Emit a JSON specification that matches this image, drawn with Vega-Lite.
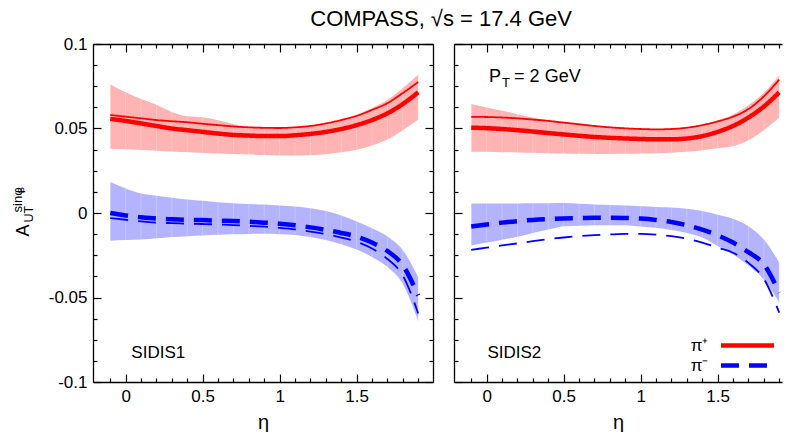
{
  "$schema": "https://vega.github.io/schema/vega-lite/v6.json",
  "padding": {"left": 12, "top": 8, "right": 0, "bottom": 0},
  "background": "white",
  "title": {"text": "COMPASS, √s = 17.4 GeV", "font": "Liberation Sans", "fontSize": 22, "fontWeight": "normal", "color": "black", "anchor": "middle", "offset": 6, "dx": 41, "dy": 2},
  "config": {
    "font": "Liberation Sans",
    "view": {"stroke": null},
    "axis": {"grid": false, "domainColor": "black", "tickColor": "black", "labelColor": "black", "titleColor": "black", "domainWidth": 1.3, "tickWidth": 1.2, "labelFont": "Liberation Sans", "labelFontSize": 17, "titleFont": "Liberation Sans", "titleFontSize": 20, "titleFontWeight": "normal"},
    "legend": {"labelFont": "Liberation Sans", "labelFontSize": 17, "labelColor": "black"}
  },
  "datasets": {
    "curves": [
      {"panel": "SIDIS1", "pion": "π⁺", "eta": -0.1, "c": 0.0557, "a": 0.058, "lo": 0.038, "hi": 0.076},
      {"panel": "SIDIS1", "pion": "π⁺", "eta": 0.0, "c": 0.0545, "a": 0.057, "lo": 0.0377, "hi": 0.0714},
      {"panel": "SIDIS1", "pion": "π⁺", "eta": 0.1, "c": 0.053, "a": 0.056, "lo": 0.0373, "hi": 0.0675},
      {"panel": "SIDIS1", "pion": "π⁺", "eta": 0.2, "c": 0.0515, "a": 0.055, "lo": 0.0369, "hi": 0.0641},
      {"panel": "SIDIS1", "pion": "π⁺", "eta": 0.3, "c": 0.05, "a": 0.0543, "lo": 0.0364, "hi": 0.0598},
      {"panel": "SIDIS1", "pion": "π⁺", "eta": 0.4, "c": 0.049, "a": 0.0537, "lo": 0.0359, "hi": 0.0572},
      {"panel": "SIDIS1", "pion": "π⁺", "eta": 0.5, "c": 0.048, "a": 0.0528, "lo": 0.0355, "hi": 0.0566},
      {"panel": "SIDIS1", "pion": "π⁺", "eta": 0.6, "c": 0.047, "a": 0.052, "lo": 0.0352, "hi": 0.0549},
      {"panel": "SIDIS1", "pion": "π⁺", "eta": 0.7, "c": 0.0462, "a": 0.0512, "lo": 0.0349, "hi": 0.0527},
      {"panel": "SIDIS1", "pion": "π⁺", "eta": 0.8, "c": 0.0458, "a": 0.0507, "lo": 0.0346, "hi": 0.0508},
      {"panel": "SIDIS1", "pion": "π⁺", "eta": 0.9, "c": 0.0455, "a": 0.0504, "lo": 0.0343, "hi": 0.0505},
      {"panel": "SIDIS1", "pion": "π⁺", "eta": 1.0, "c": 0.0455, "a": 0.0503, "lo": 0.034, "hi": 0.0504},
      {"panel": "SIDIS1", "pion": "π⁺", "eta": 1.1, "c": 0.046, "a": 0.0507, "lo": 0.034, "hi": 0.0508},
      {"panel": "SIDIS1", "pion": "π⁺", "eta": 1.2, "c": 0.0468, "a": 0.0515, "lo": 0.0342, "hi": 0.0517},
      {"panel": "SIDIS1", "pion": "π⁺", "eta": 1.3, "c": 0.048, "a": 0.053, "lo": 0.0348, "hi": 0.0533},
      {"panel": "SIDIS1", "pion": "π⁺", "eta": 1.4, "c": 0.0497, "a": 0.055, "lo": 0.036, "hi": 0.0555},
      {"panel": "SIDIS1", "pion": "π⁺", "eta": 1.5, "c": 0.052, "a": 0.0575, "lo": 0.0375, "hi": 0.0582},
      {"panel": "SIDIS1", "pion": "π⁺", "eta": 1.6, "c": 0.055, "a": 0.061, "lo": 0.04, "hi": 0.062},
      {"panel": "SIDIS1", "pion": "π⁺", "eta": 1.7, "c": 0.059, "a": 0.065, "lo": 0.0435, "hi": 0.067},
      {"panel": "SIDIS1", "pion": "π⁺", "eta": 1.8, "c": 0.0645, "a": 0.071, "lo": 0.049, "hi": 0.074},
      {"panel": "SIDIS1", "pion": "π⁺", "eta": 1.9, "c": 0.0714, "a": 0.0775, "lo": 0.0553, "hi": 0.0818},
      {"panel": "SIDIS1", "pion": "π⁻", "eta": -0.1, "c": 0.0, "a": -0.003, "lo": -0.0164, "hi": 0.0183},
      {"panel": "SIDIS1", "pion": "π⁻", "eta": 0.0, "c": -0.0015, "a": -0.004, "lo": -0.016, "hi": 0.0145},
      {"panel": "SIDIS1", "pion": "π⁻", "eta": 0.1, "c": -0.0025, "a": -0.005, "lo": -0.0157, "hi": 0.0115},
      {"panel": "SIDIS1", "pion": "π⁻", "eta": 0.2, "c": -0.0033, "a": -0.0057, "lo": -0.015, "hi": 0.0102},
      {"panel": "SIDIS1", "pion": "π⁻", "eta": 0.3, "c": -0.0037, "a": -0.006, "lo": -0.0142, "hi": 0.009},
      {"panel": "SIDIS1", "pion": "π⁻", "eta": 0.4, "c": -0.004, "a": -0.0063, "lo": -0.0137, "hi": 0.008},
      {"panel": "SIDIS1", "pion": "π⁻", "eta": 0.5, "c": -0.0042, "a": -0.0065, "lo": -0.0133, "hi": 0.0072},
      {"panel": "SIDIS1", "pion": "π⁻", "eta": 0.6, "c": -0.0045, "a": -0.0068, "lo": -0.0129, "hi": 0.0064},
      {"panel": "SIDIS1", "pion": "π⁻", "eta": 0.7, "c": -0.0048, "a": -0.0072, "lo": -0.0126, "hi": 0.0058},
      {"panel": "SIDIS1", "pion": "π⁻", "eta": 0.8, "c": -0.0052, "a": -0.0076, "lo": -0.0124, "hi": 0.0053},
      {"panel": "SIDIS1", "pion": "π⁻", "eta": 0.9, "c": -0.0057, "a": -0.0081, "lo": -0.0123, "hi": 0.005},
      {"panel": "SIDIS1", "pion": "π⁻", "eta": 1.0, "c": -0.0063, "a": -0.0088, "lo": -0.0125, "hi": 0.0045},
      {"panel": "SIDIS1", "pion": "π⁻", "eta": 1.1, "c": -0.0072, "a": -0.0097, "lo": -0.013, "hi": 0.0038},
      {"panel": "SIDIS1", "pion": "π⁻", "eta": 1.2, "c": -0.0085, "a": -0.011, "lo": -0.0142, "hi": 0.0028},
      {"panel": "SIDIS1", "pion": "π⁻", "eta": 1.3, "c": -0.01, "a": -0.0125, "lo": -0.016, "hi": 0.0012},
      {"panel": "SIDIS1", "pion": "π⁻", "eta": 1.4, "c": -0.0118, "a": -0.0145, "lo": -0.0185, "hi": -0.0015},
      {"panel": "SIDIS1", "pion": "π⁻", "eta": 1.5, "c": -0.014, "a": -0.017, "lo": -0.0216, "hi": -0.005},
      {"panel": "SIDIS1", "pion": "π⁻", "eta": 1.6, "c": -0.0175, "a": -0.021, "lo": -0.026, "hi": -0.009},
      {"panel": "SIDIS1", "pion": "π⁻", "eta": 1.7, "c": -0.0225, "a": -0.0272, "lo": -0.032, "hi": -0.0139},
      {"panel": "SIDIS1", "pion": "π⁻", "eta": 1.8, "c": -0.031, "a": -0.037, "lo": -0.042, "hi": -0.022},
      {"panel": "SIDIS1", "pion": "π⁻", "eta": 1.9, "c": -0.0488, "a": -0.0595, "lo": -0.064, "hi": -0.038},
      {"panel": "SIDIS2", "pion": "π⁺", "eta": -0.1, "c": 0.0505, "a": 0.0569, "lo": 0.0363, "hi": 0.0645},
      {"panel": "SIDIS2", "pion": "π⁺", "eta": 0.0, "c": 0.0502, "a": 0.0568, "lo": 0.0362, "hi": 0.0625},
      {"panel": "SIDIS2", "pion": "π⁺", "eta": 0.1, "c": 0.0497, "a": 0.0565, "lo": 0.036, "hi": 0.0605},
      {"panel": "SIDIS2", "pion": "π⁺", "eta": 0.2, "c": 0.049, "a": 0.056, "lo": 0.0358, "hi": 0.0585},
      {"panel": "SIDIS2", "pion": "π⁺", "eta": 0.3, "c": 0.0482, "a": 0.0553, "lo": 0.0356, "hi": 0.0565},
      {"panel": "SIDIS2", "pion": "π⁺", "eta": 0.4, "c": 0.0473, "a": 0.0545, "lo": 0.0354, "hi": 0.0548},
      {"panel": "SIDIS2", "pion": "π⁺", "eta": 0.5, "c": 0.0465, "a": 0.0535, "lo": 0.0352, "hi": 0.0537},
      {"panel": "SIDIS2", "pion": "π⁺", "eta": 0.6, "c": 0.0457, "a": 0.0525, "lo": 0.035, "hi": 0.0527},
      {"panel": "SIDIS2", "pion": "π⁺", "eta": 0.7, "c": 0.045, "a": 0.0515, "lo": 0.0349, "hi": 0.0517},
      {"panel": "SIDIS2", "pion": "π⁺", "eta": 0.8, "c": 0.0445, "a": 0.0507, "lo": 0.0349, "hi": 0.0509},
      {"panel": "SIDIS2", "pion": "π⁺", "eta": 0.9, "c": 0.0441, "a": 0.0501, "lo": 0.035, "hi": 0.0503},
      {"panel": "SIDIS2", "pion": "π⁺", "eta": 1.0, "c": 0.0438, "a": 0.0497, "lo": 0.0352, "hi": 0.0499},
      {"panel": "SIDIS2", "pion": "π⁺", "eta": 1.1, "c": 0.0436, "a": 0.0495, "lo": 0.0354, "hi": 0.0497},
      {"panel": "SIDIS2", "pion": "π⁺", "eta": 1.2, "c": 0.0436, "a": 0.0497, "lo": 0.0357, "hi": 0.0499},
      {"panel": "SIDIS2", "pion": "π⁺", "eta": 1.3, "c": 0.0441, "a": 0.0505, "lo": 0.0362, "hi": 0.0507},
      {"panel": "SIDIS2", "pion": "π⁺", "eta": 1.4, "c": 0.0455, "a": 0.052, "lo": 0.0372, "hi": 0.0524},
      {"panel": "SIDIS2", "pion": "π⁺", "eta": 1.5, "c": 0.048, "a": 0.0542, "lo": 0.0383, "hi": 0.0549},
      {"panel": "SIDIS2", "pion": "π⁺", "eta": 1.6, "c": 0.0515, "a": 0.057, "lo": 0.0395, "hi": 0.0582},
      {"panel": "SIDIS2", "pion": "π⁺", "eta": 1.7, "c": 0.0565, "a": 0.0615, "lo": 0.043, "hi": 0.0637},
      {"panel": "SIDIS2", "pion": "π⁺", "eta": 1.8, "c": 0.063, "a": 0.069, "lo": 0.049, "hi": 0.0712},
      {"panel": "SIDIS2", "pion": "π⁺", "eta": 1.9, "c": 0.0714, "a": 0.0789, "lo": 0.0563, "hi": 0.0813},
      {"panel": "SIDIS2", "pion": "π⁻", "eta": -0.1, "c": -0.008, "a": -0.0218, "lo": -0.0192, "hi": 0.0056},
      {"panel": "SIDIS2", "pion": "π⁻", "eta": 0.0, "c": -0.0068, "a": -0.0205, "lo": -0.0175, "hi": 0.0056},
      {"panel": "SIDIS2", "pion": "π⁻", "eta": 0.1, "c": -0.0057, "a": -0.0192, "lo": -0.0158, "hi": 0.0056},
      {"panel": "SIDIS2", "pion": "π⁻", "eta": 0.2, "c": -0.0048, "a": -0.018, "lo": -0.0141, "hi": 0.0056},
      {"panel": "SIDIS2", "pion": "π⁻", "eta": 0.3, "c": -0.0041, "a": -0.0167, "lo": -0.0118, "hi": 0.0057},
      {"panel": "SIDIS2", "pion": "π⁻", "eta": 0.4, "c": -0.0036, "a": -0.0155, "lo": -0.0098, "hi": 0.0058},
      {"panel": "SIDIS2", "pion": "π⁻", "eta": 0.5, "c": -0.0032, "a": -0.0145, "lo": -0.0078, "hi": 0.0059},
      {"panel": "SIDIS2", "pion": "π⁻", "eta": 0.6, "c": -0.003, "a": -0.0137, "lo": -0.0075, "hi": 0.0055},
      {"panel": "SIDIS2", "pion": "π⁻", "eta": 0.7, "c": -0.0028, "a": -0.0131, "lo": -0.0073, "hi": 0.0051},
      {"panel": "SIDIS2", "pion": "π⁻", "eta": 0.8, "c": -0.0028, "a": -0.0127, "lo": -0.0072, "hi": 0.0048},
      {"panel": "SIDIS2", "pion": "π⁻", "eta": 0.9, "c": -0.0029, "a": -0.0124, "lo": -0.0072, "hi": 0.0044},
      {"panel": "SIDIS2", "pion": "π⁻", "eta": 1.0, "c": -0.0033, "a": -0.0124, "lo": -0.008, "hi": 0.004},
      {"panel": "SIDIS2", "pion": "π⁻", "eta": 1.1, "c": -0.0041, "a": -0.0128, "lo": -0.0088, "hi": 0.0036},
      {"panel": "SIDIS2", "pion": "π⁻", "eta": 1.2, "c": -0.0053, "a": -0.0137, "lo": -0.01, "hi": 0.0032},
      {"panel": "SIDIS2", "pion": "π⁻", "eta": 1.3, "c": -0.0072, "a": -0.0152, "lo": -0.0118, "hi": 0.0025},
      {"panel": "SIDIS2", "pion": "π⁻", "eta": 1.4, "c": -0.0098, "a": -0.0175, "lo": -0.0145, "hi": 0.0012},
      {"panel": "SIDIS2", "pion": "π⁻", "eta": 1.5, "c": -0.0132, "a": -0.0205, "lo": -0.0195, "hi": -0.001},
      {"panel": "SIDIS2", "pion": "π⁻", "eta": 1.6, "c": -0.0175, "a": -0.0235, "lo": -0.0245, "hi": -0.0034},
      {"panel": "SIDIS2", "pion": "π⁻", "eta": 1.7, "c": -0.0232, "a": -0.0295, "lo": -0.031, "hi": -0.0078},
      {"panel": "SIDIS2", "pion": "π⁻", "eta": 1.8, "c": -0.0304, "a": -0.039, "lo": -0.0393, "hi": -0.0157},
      {"panel": "SIDIS2", "pion": "π⁻", "eta": 1.9, "c": -0.0472, "a": -0.059, "lo": -0.053, "hi": -0.0294}
    ],
    "one": [{}]
  },
  "data": {"name": "curves"},
  "spacing": 21,
  "bounds": "flush",
  "resolve": {"scale": {"color": "independent", "strokeDash": "independent"}},
  "hconcat": [
    {
      "width": 340,
      "height": 338,
      "resolve": {"axis": {"x": "independent", "y": "independent"}},
      "layer": [
        {
          "transform": [{"filter": "datum.panel == 'SIDIS1' && datum.pion == 'π⁺'"}],
          "mark": {"type": "area", "color": "#ffb3b3", "interpolate": "monotone"},
          "encoding": {
            "x": {"field": "eta", "type": "quantitative", "scale": {"domain": [-0.212, 1.996], "nice": false, "zero": false},
                  "axis": {"orient": "bottom", "values": [0, 0.5, 1, 1.5], "tickSize": -8, "labelPadding": 14, "format": "~g", "title": "η", "titlePadding": 8}},
            "y": {"field": "lo", "type": "quantitative", "scale": {"domain": [-0.1, 0.1], "nice": false, "zero": false},
                  "axis": {"orient": "left", "values": [-0.1, -0.05, 0, 0.05, 0.1], "tickSize": -8, "labelPadding": 14, "labelExpr": "replace(format(datum.value, '.2~f'), '−', '-')", "title": null}},
            "y2": {"field": "hi"}
          }
        },
        {
          "transform": [{"filter": "datum.panel == 'SIDIS1' && datum.pion == 'π⁻'"}],
          "mark": {"type": "area", "color": "#b3b3ff", "interpolate": "monotone"},
          "encoding": {
            "x": {"field": "eta", "type": "quantitative", "scale": {"domain": [-0.212, 1.996], "nice": false, "zero": false},
                  "axis": {"orient": "top", "values": [0, 0.5, 1, 1.5], "tickSize": -8, "labels": false, "title": null}},
            "y": {"field": "lo", "type": "quantitative", "scale": {"domain": [-0.1, 0.1], "nice": false, "zero": false},
                  "axis": {"orient": "right", "values": [-0.1, -0.05, 0, 0.05, 0.1], "tickSize": -8, "labels": false, "title": null}},
            "y2": {"field": "hi"}
          }
        },
        {
          "transform": [{"filter": "datum.panel == 'SIDIS1'"}],
          "mark": {"type": "rule", "color": "white", "strokeWidth": 0.8, "opacity": 0.3},
          "encoding": {
            "x": {"field": "eta", "type": "quantitative",
                  "axis": {"orient": "bottom", "values": [-0.1, 0.1, 0.2, 0.3, 0.4, 0.6, 0.7, 0.8, 0.9, 1.1, 1.2, 1.3, 1.4, 1.6, 1.7, 1.8, 1.9], "tickSize": -4, "labels": false, "domain": false, "title": null}},
            "y": {"field": "lo", "type": "quantitative",
                  "axis": {"orient": "left", "values": [-0.0875, -0.075, -0.0625, -0.0375, -0.025, -0.0125, 0.0125, 0.025, 0.0375, 0.0625, 0.075, 0.0875], "tickSize": -4, "labels": false, "domain": false, "title": null}},
            "y2": {"field": "hi"}
          }
        },
        {
          "transform": [{"filter": "datum.panel == 'SIDIS1'"}],
          "mark": {"type": "line", "strokeWidth": 1.8, "interpolate": "monotone"},
          "encoding": {
            "x": {"field": "eta", "type": "quantitative",
                  "axis": {"orient": "top", "values": [-0.1, 0.1, 0.2, 0.3, 0.4, 0.6, 0.7, 0.8, 0.9, 1.1, 1.2, 1.3, 1.4, 1.6, 1.7, 1.8, 1.9], "tickSize": -4, "labels": false, "domain": false, "title": null}},
            "y": {"field": "a", "type": "quantitative",
                  "axis": {"orient": "right", "values": [-0.0875, -0.075, -0.0625, -0.0375, -0.025, -0.0125, 0.0125, 0.025, 0.0375, 0.0625, 0.075, 0.0875], "tickSize": -4, "labels": false, "domain": false, "title": null}},
            "color": {"field": "pion", "type": "nominal", "scale": {"domain": ["π⁺", "π⁻"], "range": ["#ff0000", "#0000ff"]}, "legend": null},
            "strokeDash": {"field": "pion", "type": "nominal", "scale": {"domain": ["π⁺", "π⁻"], "range": [[1, 0], [18, 10]]}, "legend": null}
          }
        },
        {
          "transform": [{"filter": "datum.panel == 'SIDIS1'"}],
          "mark": {"type": "line", "strokeWidth": 4.5, "interpolate": "monotone"},
          "encoding": {
            "x": {"field": "eta", "type": "quantitative", "axis": null},
            "y": {"field": "c", "type": "quantitative", "axis": null},
            "color": {"field": "pion", "type": "nominal", "scale": {"domain": ["π⁺", "π⁻"], "range": ["#ff0000", "#0000ff"]}, "legend": null},
            "strokeDash": {"field": "pion", "type": "nominal", "scale": {"domain": ["π⁺", "π⁻"], "range": [[1, 0], [18, 10]]}, "legend": null}
          }
        },
        {
          "data": {"name": "one"},
          "mark": {"type": "text", "text": "SIDIS1", "fontSize": 17, "align": "left", "baseline": "alphabetic", "color": "black"},
          "encoding": {
            "x": {"datum": 0.037, "type": "quantitative", "axis": null},
            "y": {"datum": -0.086, "type": "quantitative", "axis": null}
          }
        },
        {
          "data": {"name": "one"},
          "mark": {"type": "text", "text": "A", "fontSize": 18, "align": "left", "baseline": "alphabetic", "dy": -64, "color": "black"},
          "encoding": {
            "x": {"datum": -0.212, "type": "quantitative", "axis": null},
            "y": {"datum": -0.0139, "type": "quantitative", "axis": null},
            "angle": {"value": 270}
          }
        },
        {
          "data": {"name": "one"},
          "mark": {"type": "text", "text": "UT", "fontSize": 12.5, "align": "left", "baseline": "alphabetic", "dy": -60, "color": "black"},
          "encoding": {
            "x": {"datum": -0.212, "type": "quantitative", "axis": null},
            "y": {"datum": -0.0056, "type": "quantitative", "axis": null},
            "angle": {"value": 270}
          }
        },
        {
          "data": {"name": "one"},
          "mark": {"type": "text", "text": "sinφ", "fontSize": 13, "align": "left", "baseline": "alphabetic", "dy": -71, "color": "black"},
          "encoding": {
            "x": {"datum": -0.212, "type": "quantitative", "axis": null},
            "y": {"datum": 0.0003, "type": "quantitative", "axis": null},
            "angle": {"value": 270}
          }
        },
        {
          "data": {"name": "one"},
          "mark": {"type": "text", "text": "S", "fontSize": 9.5, "align": "left", "baseline": "alphabetic", "dy": -69, "color": "black"},
          "encoding": {
            "x": {"datum": -0.212, "type": "quantitative", "axis": null},
            "y": {"datum": 0.0116, "type": "quantitative", "axis": null},
            "angle": {"value": 270}
          }
        }
      ]
    },
    {
      "width": 328,
      "height": 338,
      "resolve": {"axis": {"x": "independent", "y": "independent"}},
      "layer": [
        {
          "transform": [{"filter": "datum.panel == 'SIDIS2' && datum.pion == 'π⁺'"}],
          "mark": {"type": "area", "color": "#ffb3b3", "interpolate": "monotone"},
          "encoding": {
            "x": {"field": "eta", "type": "quantitative", "scale": {"domain": [-0.212, 1.918], "nice": false, "zero": false},
                  "axis": {"orient": "bottom", "values": [0, 0.5, 1, 1.5], "tickSize": -8, "labelPadding": 14, "format": "~g", "title": "η", "titlePadding": 8}},
            "y": {"field": "lo", "type": "quantitative", "scale": {"domain": [-0.1, 0.1], "nice": false, "zero": false},
                  "axis": {"orient": "left", "values": [-0.1, -0.05, 0, 0.05, 0.1], "tickSize": -8, "labels": false, "title": null}},
            "y2": {"field": "hi"}
          }
        },
        {
          "transform": [{"filter": "datum.panel == 'SIDIS2' && datum.pion == 'π⁻'"}],
          "mark": {"type": "area", "color": "#b3b3ff", "interpolate": "monotone"},
          "encoding": {
            "x": {"field": "eta", "type": "quantitative", "scale": {"domain": [-0.212, 1.918], "nice": false, "zero": false},
                  "axis": {"orient": "top", "values": [0, 0.5, 1, 1.5], "tickSize": -8, "labels": false, "title": null}},
            "y": {"field": "lo", "type": "quantitative", "scale": {"domain": [-0.1, 0.1], "nice": false, "zero": false}, "axis": null},
            "y2": {"field": "hi"}
          }
        },
        {
          "transform": [{"filter": "datum.panel == 'SIDIS2'"}],
          "mark": {"type": "rule", "color": "white", "strokeWidth": 0.8, "opacity": 0.3},
          "encoding": {
            "x": {"field": "eta", "type": "quantitative",
                  "axis": {"orient": "bottom", "values": [-0.1, 0.1, 0.2, 0.3, 0.4, 0.6, 0.7, 0.8, 0.9, 1.1, 1.2, 1.3, 1.4, 1.6, 1.7, 1.8, 1.9], "tickSize": -4, "labels": false, "domain": false, "title": null}},
            "y": {"field": "lo", "type": "quantitative",
                  "axis": {"orient": "left", "values": [-0.0875, -0.075, -0.0625, -0.0375, -0.025, -0.0125, 0.0125, 0.025, 0.0375, 0.0625, 0.075, 0.0875], "tickSize": -4, "labels": false, "domain": false, "title": null}},
            "y2": {"field": "hi"}
          }
        },
        {
          "transform": [{"filter": "datum.panel == 'SIDIS2'"}],
          "mark": {"type": "line", "strokeWidth": 1.8, "interpolate": "monotone"},
          "encoding": {
            "x": {"field": "eta", "type": "quantitative",
                  "axis": {"orient": "top", "values": [-0.1, 0.1, 0.2, 0.3, 0.4, 0.6, 0.7, 0.8, 0.9, 1.1, 1.2, 1.3, 1.4, 1.6, 1.7, 1.8, 1.9], "tickSize": -4, "labels": false, "domain": false, "title": null}},
            "y": {"field": "a", "type": "quantitative", "axis": null},
            "color": {"field": "pion", "type": "nominal", "scale": {"domain": ["π⁺", "π⁻"], "range": ["#ff0000", "#0000ff"]},
                      "legend": {"orient": "none", "legendX": 285, "legendY": 293, "title": null, "symbolType": "M-5,0H5", "symbolSize": 112.4, "symbolStrokeWidth": 4.5, "labelAlign": "right", "labelOffset": -47.5, "padding": 0, "rowPadding": 1}},
            "strokeDash": {"field": "pion", "type": "nominal", "scale": {"domain": ["π⁺", "π⁻"], "range": [[1, 0], [18, 10]]},
                      "legend": {"orient": "none", "legendX": 285, "legendY": 293, "title": null, "symbolType": "M-5,0H5", "symbolSize": 112.4, "symbolStrokeWidth": 4.5, "labelAlign": "right", "labelOffset": -47.5, "padding": 0, "rowPadding": 1}}
          }
        },
        {
          "transform": [{"filter": "datum.panel == 'SIDIS2'"}],
          "mark": {"type": "line", "strokeWidth": 4.5, "interpolate": "monotone"},
          "encoding": {
            "x": {"field": "eta", "type": "quantitative", "axis": null},
            "y": {"field": "c", "type": "quantitative", "axis": null},
            "color": {"field": "pion", "type": "nominal", "scale": {"domain": ["π⁺", "π⁻"], "range": ["#ff0000", "#0000ff"]},
                      "legend": {"orient": "none", "legendX": 285, "legendY": 293, "title": null, "symbolType": "M-5,0H5", "symbolSize": 112.4, "symbolStrokeWidth": 4.5, "labelAlign": "right", "labelOffset": -47.5, "padding": 0, "rowPadding": 1}},
            "strokeDash": {"field": "pion", "type": "nominal", "scale": {"domain": ["π⁺", "π⁻"], "range": [[1, 0], [18, 10]]},
                      "legend": {"orient": "none", "legendX": 285, "legendY": 293, "title": null, "symbolType": "M-5,0H5", "symbolSize": 112.4, "symbolStrokeWidth": 4.5, "labelAlign": "right", "labelOffset": -47.5, "padding": 0, "rowPadding": 1}}
          }
        },
        {
          "data": {"name": "one"},
          "mark": {"type": "text", "text": "SIDIS2", "fontSize": 17, "align": "left", "baseline": "alphabetic", "color": "black"},
          "encoding": {
            "x": {"datum": 0.005, "type": "quantitative", "axis": null},
            "y": {"datum": -0.086, "type": "quantitative", "axis": null}
          }
        },
        {
          "data": {"name": "one"},
          "mark": {"type": "text", "text": "P", "fontSize": 18, "align": "left", "baseline": "alphabetic", "color": "black"},
          "encoding": {
            "x": {"datum": 0.016, "type": "quantitative", "axis": null},
            "y": {"datum": 0.0773, "type": "quantitative", "axis": null}
          }
        },
        {
          "data": {"name": "one"},
          "mark": {"type": "text", "text": "T", "fontSize": 13, "align": "left", "baseline": "alphabetic", "dx": 13, "dy": 5, "color": "black"},
          "encoding": {
            "x": {"datum": 0.016, "type": "quantitative", "axis": null},
            "y": {"datum": 0.0773, "type": "quantitative", "axis": null}
          }
        },
        {
          "data": {"name": "one"},
          "mark": {"type": "text", "text": "= 2 GeV", "fontSize": 18, "align": "left", "baseline": "alphabetic", "dx": 25, "color": "black"},
          "encoding": {
            "x": {"datum": 0.016, "type": "quantitative", "axis": null},
            "y": {"datum": 0.0773, "type": "quantitative", "axis": null}
          }
        }
      ]
    }
  ]
}
